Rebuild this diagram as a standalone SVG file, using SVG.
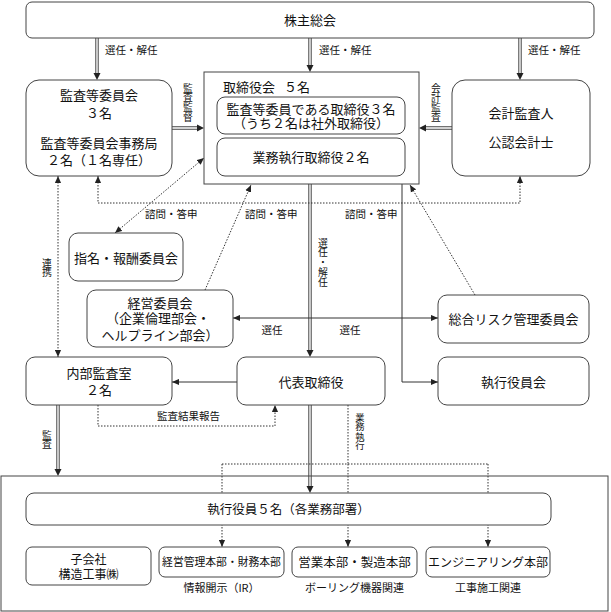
<svg xmlns="http://www.w3.org/2000/svg" width="611" height="612" viewBox="0 0 611 612">
<style>
text{font-family:"Noto Sans CJK JP","Noto Sans CJK SC",sans-serif;fill:#111}
.n{font-size:13px;text-anchor:middle}
.s{font-size:10.5px}
.sm{font-size:10.5px;text-anchor:middle}
.v{font-size:9.8px;writing-mode:vertical-rl}
.box{fill:#fff;stroke:#444;stroke-width:1}
.ln{fill:none;stroke:#333;stroke-width:1}
.dot{fill:none;stroke:#333;stroke-width:1;stroke-dasharray:1.5 1.5}
.dO{fill:none;stroke:#444;stroke-width:3.4}
.dI{fill:none;stroke:#fff;stroke-width:1.4}
.ah{fill:#222}
</style>
<defs>
<marker id="a" viewBox="0 0 8 8" refX="8" refY="4" markerWidth="7" markerHeight="7" markerUnits="userSpaceOnUse" orient="auto-start-reverse"><path d="M0,0.5 L8,4 L0,7.5z" fill="#222"/></marker>
</defs>
<g id="connectors">
<path class="dO" d="M97,38V76M310,38V68M520,38V76M172,128H200M452,128H423M310,184V353M58,405V472M310,405V489"/>
<path class="dI" d="M97,38V73M310,38V65M520,38V73M172,128H197M452,128H426M310,184V350M58,405V469M310,405V486"/>
<polygon class="ah" points="93.5,73 100.5,73 97,80"/>
<polygon class="ah" points="306.5,65 313.5,65 310,72"/>
<polygon class="ah" points="516.5,73 523.5,73 520,80"/>
<polygon class="ah" points="197,124.5 197,131.5 204,128"/>
<polygon class="ah" points="426,124.5 426,131.5 419,128"/>
<polygon class="ah" points="306.5,350 313.5,350 310,357"/>
<polygon class="ah" points="54.5,469 61.5,469 58,476"/>
<polygon class="ah" points="306.5,486 313.5,486 310,493"/>
<path class="ln" d="M233,318H438" marker-start="url(#a)" marker-end="url(#a)"/>
<path class="ln" d="M402,184V382H438" marker-end="url(#a)"/>
<path class="ln" d="M237,382H172" marker-end="url(#a)"/>
<path class="dot" d="M58,176V357" marker-start="url(#a)" marker-end="url(#a)"/>
<path class="dot" d="M98,176V203H520V176" marker-start="url(#a)" marker-end="url(#a)"/>
<path class="dot" d="M115,233L204,158" marker-start="url(#a)" marker-end="url(#a)"/>
<path class="dot" d="M205,290L251,185" marker-end="url(#a)"/>
<path class="dot" d="M475,295L410,185" marker-end="url(#a)"/>
<path class="dot" d="M98,405V426H275V405" marker-end="url(#a)"/>
<path class="dot" d="M348,405V464"/>
<path class="dot" d="M222,464H488"/>
<path class="dot" d="M222,464V547" marker-end="url(#a)"/>
<path class="dot" d="M348,464V547" marker-end="url(#a)"/>
<path class="dot" d="M488,464V547" marker-end="url(#a)"/>
<text class="s" x="105" y="54">選任・解任</text>
<text class="s" x="319" y="54">選任・解任</text>
<text class="s" x="528" y="54">選任・解任</text>
<text class="v" x="188" y="83">監査監督</text>
<text class="v" x="436" y="83">会計監査</text>
<text class="s" x="145" y="218">諮問・答申</text>
<text class="s" x="245" y="218">諮問・答申</text>
<text class="s" x="345" y="218">諮問・答申</text>
<text class="v" x="47" y="258">連携</text>
<text class="v" x="323" y="238">選任・解任</text>
<text class="sm" x="272" y="334">選任</text>
<text class="sm" x="350" y="334">選任</text>
<text class="s" x="157" y="420">監査結果報告</text>
<text class="v" x="47" y="430">監査</text>
<text class="v" style="font-size:9.3px" x="360" y="413">業務執行</text>
</g>
<g id="kabunushi-sokai">
<rect class="box" x="26" y="2" width="568" height="36" rx="6"/>
<text class="n" x="310" y="25">株主総会</text>
</g>
<g id="kansatou-iinkai">
<rect class="box" x="26" y="80" width="146" height="96" rx="13"/>
<text class="n" x="99" y="99.5">監査等委員会</text>
<text class="n" x="99" y="117.5">３名</text>
<text class="n" x="99" y="147.5">監査等委員会事務局</text>
<text class="n" x="99" y="164.5">２名（１名専任）</text>
</g>
<g id="torishimariyakukai">
<rect class="box" x="204" y="72" width="215" height="112"/>
<text style="font-size:13px" x="223" y="91.5">取締役会</text>
<text style="font-size:13px" x="284" y="91.5">５名</text>
<rect class="box" x="217" y="97" width="188" height="37" rx="8"/>
<text class="n" x="311" y="113.5">監査等委員である取締役３名</text>
<text class="n" x="311" y="127.5">（うち２名は社外取締役）</text>
<rect class="box" x="217" y="138" width="188" height="38" rx="8"/>
<text class="n" x="311" y="162">業務執行取締役２名</text>
</g>
<g id="kaikei-kansanin">
<rect class="box" x="452" y="80" width="138" height="96" rx="13"/>
<text class="n" x="521" y="117.5">会計監査人</text>
<text class="n" x="521" y="146.5">公認会計士</text>
</g>
<g id="shimei-hoshu">
<rect class="box" x="69" y="233" width="114" height="48" rx="9"/>
<text class="n" x="126" y="262.5">指名・報酬委員会</text>
</g>
<g id="keiei-iinkai">
<rect class="box" x="87" y="290" width="146" height="57" rx="9"/>
<text class="n" x="160" y="307.5">経営委員会</text>
<text class="n" x="158" y="322.5">（企業倫理部会・</text>
<text class="n" x="160" y="339.5">ヘルプライン部会）</text>
</g>
<g id="sogo-risk">
<rect class="box" x="438" y="295" width="151" height="48" rx="9"/>
<text class="n" x="513.5" y="323.5">総合リスク管理委員会</text>
</g>
<g id="naibu-kansa">
<rect class="box" x="26" y="357" width="146" height="48" rx="9"/>
<text class="n" x="99" y="377.5">内部監査室</text>
<text class="n" x="99" y="394.5">２名</text>
</g>
<g id="daihyo">
<rect class="box" x="237" y="357" width="148" height="48" rx="9"/>
<text class="n" x="311" y="386.5">代表取締役</text>
</g>
<g id="shikko-yakuinkai">
<rect class="box" x="438" y="357" width="151" height="48" rx="9"/>
<text class="n" x="513.5" y="386.5">執行役員会</text>
</g>
<g id="shikko-area">
<rect x="1" y="476" width="607" height="135" fill="none" stroke="#444" stroke-width="1"/>
</g>
<g id="shikko-yakuin">
<rect class="box" x="26" y="493" width="525" height="32" rx="8"/>
<text class="n" style="font-size:12.5px" x="288.5" y="514">執行役員５名（各業務部署）</text>
</g>
<g id="kogaisha">
<rect class="box" x="26" y="547" width="125" height="38" rx="6"/>
<text class="n" style="font-size:12px" x="88.5" y="564">子会社</text>
<text class="n" style="font-size:12px" x="88.5" y="579">構造工事㈱</text>
</g>
<g id="keiei-kanri">
<rect class="box" x="159" y="547" width="125" height="30" rx="6"/>
<text class="n" style="font-size:10.8px" x="221.5" y="566">経営管理本部・財務本部</text>
<text class="sm" style="font-size:11px" x="221.5" y="592">情報開示（IR）</text>
</g>
<g id="eigyo">
<rect class="box" x="292" y="547" width="125" height="30" rx="6"/>
<text class="n" style="font-size:12.5px" x="354.5" y="566.5">営業本部・製造本部</text>
<text class="sm" style="font-size:11px" x="354.5" y="592">ボーリング機器関連</text>
</g>
<g id="engineering">
<rect class="box" x="426" y="547" width="124" height="30" rx="6"/>
<text class="n" style="font-size:12px" x="488" y="566.5">エンジニアリング本部</text>
<text class="sm" style="font-size:11px" x="488" y="592">工事施工関連</text>
</g>
</svg>
